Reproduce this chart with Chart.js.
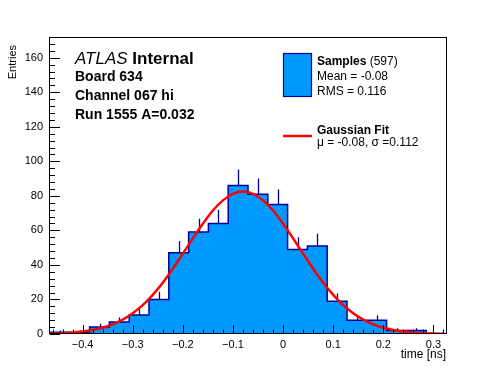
<!DOCTYPE html>
<html lang="en">
<head>
<meta charset="UTF-8">
<title>Board 634 timing</title>
<script src="https://cdn.jsdelivr.net/npm/chart.js"></script>
<style>
  body { margin: 0; background: #fff; }
  #wrap { width: 496px; height: 372px; }
</style>
</head>
<body>
<div id="wrap"><canvas id="c" width="496" height="372"></canvas></div>
<script>
// histogram bins (time in ns)
const binEdges = [-0.465, -0.4255, -0.386, -0.3465, -0.307, -0.2675, -0.228, -0.1885, -0.149, -0.1095,
                  -0.07, -0.0305, 0.009, 0.0485, 0.088, 0.1275, 0.167, 0.2065, 0.246, 0.2855, 0.325];
const binCounts = [1, 1, 4, 7, 11, 20, 47, 59, 64, 86, 81, 75, 49, 51, 19, 8, 8, 2, 2, 0];
const binErrors = [1, 1, 2, 2.6, 3.3, 4.5, 6.9, 7.7, 8, 9.3, 9, 8.7, 7, 7.1, 4.4, 2.8, 2.8, 1.4, 1.4, 0];

// gaussian fit curve
const fitX = [-0.48, -0.46, -0.44, -0.42, -0.40, -0.38, -0.36, -0.34, -0.32, -0.30, -0.28, -0.26, -0.24, -0.22,
              -0.20, -0.18, -0.16, -0.14, -0.12, -0.10, -0.08, -0.06, -0.04, -0.02, 0.00, 0.02, 0.04, 0.06,
              0.08, 0.10, 0.12, 0.14, 0.16, 0.18, 0.20, 0.22, 0.24, 0.26, 0.28, 0.30, 0.32];
const fitY = [0.14, 0.26, 0.47, 0.8, 1.4, 2.3, 3.6, 5.6, 8.3, 12.0, 16.7, 22.7, 29.7, 37.8,
              46.5, 55.4, 63.9, 71.5, 77.4, 81.2, 82.5, 81.2, 77.4, 71.5, 63.9, 55.4, 46.5, 37.8,
              29.7, 22.7, 16.7, 12.0, 8.3, 5.6, 3.6, 2.3, 1.4, 0.8, 0.47, 0.26, 0.14];

const xTickValues = [-0.4, -0.3, -0.2, -0.1, 0, 0.1, 0.2, 0.3];
const xTickLabels = ['\u22120.4', '\u22120.3', '\u22120.2', '\u22120.1', '0', '0.1', '0.2', '0.3'];
const yTickValues = [0, 20, 40, 60, 80, 100, 120, 140, 160];
const yTickLabels = ['0', '20', '40', '60', '80', '100', '120', '140', '160'];

const FONT = '"Liberation Sans", Arial, sans-serif';
const fillBlue = '#0099ff';
const lineBlue = '#000099';

// step outline points: start at baseline, then (right edge, count)
const histPoints = [{ x: binEdges[0], y: 0 }];
binCounts.forEach((c, i) => histPoints.push({ x: binEdges[i + 1], y: c }));
histPoints.push({ x: binEdges[binEdges.length - 1], y: 0 });

const fitPoints = fitX.map((x, i) => ({ x: x, y: fitY[i] }));

const errorBars = {
    id: 'errorBars',
    afterDatasetDraw(chart, args) {
        if (args.index !== 1) return;
        const ctx = chart.ctx, x = chart.scales.x, y = chart.scales.y;
        ctx.save();
        ctx.strokeStyle = lineBlue;
        ctx.lineWidth = 1.3;
        ctx.beginPath();
        binCounts.forEach((c, i) => {
            if (!binErrors[i]) return;
            const px = Math.round(x.getPixelForValue((binEdges[i] + binEdges[i + 1]) / 2)) + 0.5;
            ctx.moveTo(px, y.getPixelForValue(c));
            ctx.lineTo(px, y.getPixelForValue(c + binErrors[i]));
        });
        ctx.stroke();
        ctx.restore();
    }
};

const rootFrame = {
    id: 'rootFrame',
    afterDatasetsDraw(chart) {
        const ctx = chart.ctx, a = chart.chartArea, x = chart.scales.x, y = chart.scales.y;
        ctx.save();
        ctx.strokeStyle = '#000';
        ctx.lineWidth = 1;
        ctx.beginPath();
        // x ticks, major 0.1, minor 0.02
        for (let k = -23; k <= 16; k++) {
            const v = k * 0.02;
            if (v < x.min || v > x.max) continue;
            const px = Math.round(x.getPixelForValue(v)) + 0.5;
            const len = (k % 5 === 0) ? 9 : 4.5;
            ctx.moveTo(px, a.bottom);
            ctx.lineTo(px, a.bottom - len);
        }
        // y ticks, major 20, minor 4
        for (let v = 0; v <= y.max; v += 4) {
            const py = Math.round(y.getPixelForValue(v)) + 0.5;
            const len = (v % 20 === 0) ? 10 : 5;
            ctx.moveTo(a.left, py);
            ctx.lineTo(a.left + len, py);
        }
        ctx.stroke();
        ctx.strokeRect(Math.round(a.left) - 0.5, Math.round(a.top) + 0.5,
                       Math.round(a.right - a.left) + 1, Math.round(a.bottom - a.top) - 1);
        ctx.restore();
    }
};

const labels = {
    id: 'labels',
    afterDraw(chart) {
        const ctx = chart.ctx;
        ctx.save();
        ctx.fillStyle = '#000';
        ctx.textBaseline = 'alphabetic';
        ctx.textAlign = 'left';

        ctx.font = 'italic 17px ' + FONT;
        ctx.fillText('ATLAS', 75, 64);
        const w = ctx.measureText('ATLAS ').width;
        ctx.font = 'bold 17px ' + FONT;
        ctx.fillText('Internal', 75 + w, 64);

        ctx.font = 'bold 14px ' + FONT;
        ctx.fillText('Board 634', 75, 81);
        ctx.fillText('Channel 067 hi', 75, 100);
        ctx.fillText('Run 1555 A=0.032', 75, 119);

        // legend
        ctx.fillStyle = fillBlue;
        ctx.fillRect(283, 53, 29, 44);
        ctx.strokeStyle = lineBlue;
        ctx.lineWidth = 1.2;
        ctx.strokeRect(283.5, 53.5, 28, 43);

        ctx.fillStyle = '#000';
        ctx.font = 'bold 12px ' + FONT;
        ctx.fillText('Samples', 317, 65);
        const ws = ctx.measureText('Samples').width;
        ctx.font = '12px ' + FONT;
        ctx.fillText(' (597)', 317 + ws, 65);
        ctx.fillText('Mean = -0.08', 317, 79.5);
        ctx.fillText('RMS = 0.116', 317, 94.5);

        ctx.strokeStyle = '#ff0000';
        ctx.lineWidth = 2.5;
        ctx.beginPath();
        ctx.moveTo(283, 136);
        ctx.lineTo(312, 136);
        ctx.stroke();

        ctx.font = 'bold 12px ' + FONT;
        ctx.fillText('Gaussian Fit', 317, 133.5);
        ctx.font = '12px ' + FONT;
        ctx.fillText('\u03bc = -0.08, \u03c3 =0.112', 317, 146);

        // axis titles
        ctx.font = '12px ' + FONT;
        ctx.textAlign = 'right';
        ctx.fillText('time [ns]', 446, 358);
        ctx.translate(16, 45);
        ctx.rotate(-Math.PI / 2);
        ctx.font = '11px ' + FONT;
        ctx.fillText('Entries', 0, 0);
        ctx.restore();
    }
};

new Chart(document.getElementById('c'), {
    type: 'line',
    data: {
        datasets: [
            {
                label: 'Gaussian Fit',
                data: fitPoints,
                borderColor: '#ff0000',
                borderWidth: 2.5,
                pointRadius: 0,
                fill: false,
                cubicInterpolationMode: 'monotone'
            },
            {
                label: 'Samples',
                data: histPoints,
                stepped: 'after',
                borderColor: lineBlue,
                borderWidth: 1.5,
                backgroundColor: fillBlue,
                fill: 'origin',
                pointRadius: 0
            }
        ]
    },
    options: {
        responsive: false,
        animation: false,
        devicePixelRatio: 1,
        layout: { padding: { left: 0, top: 37, right: 50, bottom: 0 } },
        plugins: { legend: { display: false }, tooltip: { enabled: false } },
        scales: {
            x: {
                type: 'linear',
                min: -0.465,
                max: 0.325,
                grid: { display: false, drawTicks: false },
                border: { display: false },
                afterBuildTicks: s => { s.ticks = xTickValues.map(v => ({ value: v })); },
                afterFit: s => { s.height = 38; },
                ticks: {
                    padding: 4,
                    maxRotation: 0,
                    autoSkip: false,
                    color: '#000',
                    font: { family: FONT, size: 11 },
                    callback: (v) => xTickLabels[xTickValues.findIndex(t => Math.abs(t - v) < 1e-6)]
                }
            },
            y: {
                min: 0,
                max: 172,
                grid: { display: false, drawTicks: false },
                border: { display: false },
                afterBuildTicks: s => { s.ticks = yTickValues.map(v => ({ value: v })); },
                afterFit: s => { s.width = 50; },
                ticks: {
                    padding: 7,
                    autoSkip: false,
                    color: '#000',
                    font: { family: FONT, size: 11 },
                    callback: (v) => yTickLabels[yTickValues.indexOf(v)]
                }
            }
        }
    },
    plugins: [errorBars, rootFrame, labels]
});
</script>
</body>
</html>
